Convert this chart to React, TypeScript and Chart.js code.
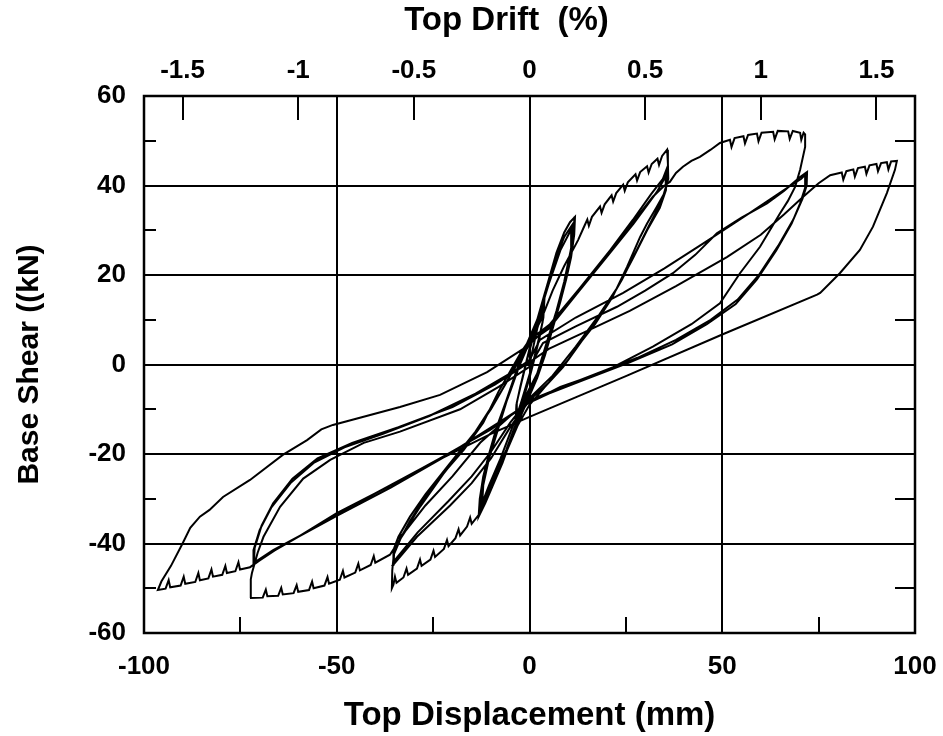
import React, { useEffect, useRef } from "react";
import { Chart, registerables } from "chart.js";

Chart.register(...registerables);

// ---- axis values ----
const xMin = -100;
const xMax = 100;
const yMin = -60;
const yMax = 60;
const mmPerDriftPercent = 60;
const xTickValues = [-100, -50, 0, 50, 100];
const yTickValues = [-60, -40, -20, 0, 20, 40, 60];
const driftTickValues = [-1.5, -1, -0.5, 0, 0.5, 1, 1.5];
const xMinorTicks = [-75, -25, 25, 75];
const yMinorTicks = [-50, -30, -10, 10, 30, 50];
const driftMarks = [-1.5, -1, -0.5, 0.5, 1, 1.5];

// ---- hysteresis path: [displacement mm, shear kN] ----
const smallCycles = [
  [0, 0], [1, 4], [2, 8], [3, 11], [3.8, 13.5], [3.6, 10.5], [2.6, 6], [1.2, 1], [0, -3],
  [-1.2, -6.5], [-2.4, -9.5], [-3.6, -12.5], [-3.4, -9], [-2.4, -5], [-1, 0], [0, 3.5],
  [1.2, 6.5], [2.5, 10], [3.6, 12.8], [3.4, 9.5], [2.2, 5], [0.8, 0], [-0.6, -4], [-2, -8],
  [-3.5, -12], [-3.3, -8.5], [-2.2, -4.5], [-0.8, 0.5], [0.3, 4],
];

const cycle12a = [
  [1.5, 8], [3, 13], [5, 19], [7, 25], [9, 29.5], [10.5, 31.8], [11.8, 33], [11.6, 29],
  [10.8, 24], [9.5, 19], [8, 14], [6, 8], [4, 2], [2, -3], [0, -7], [-2, -11], [-4.5, -16],
  [-7, -22], [-9.5, -27], [-11.5, -31], [-13.2, -34], [-12.9, -30], [-12, -25], [-10.5, -20],
  [-8.5, -14], [-6, -8], [-4, -3], [-2, 2], [0, 6],
];
const cycle12b = [
  [2, 10], [4, 16], [6.5, 23], [9, 28.5], [11.3, 31.5], [11, 27], [9.5, 20], [7.5, 13],
  [5, 6], [2.5, -1], [0, -6], [-3, -12], [-6, -19], [-9, -25], [-12.3, -31.5], [-12, -27],
  [-10.5, -21], [-8, -14], [-5.5, -7], [-3, -1], [-1, 3], [0.5, 6],
];
const cycle12c = [
  [2.5, 11], [5, 18], [8, 25.5], [11, 30.5], [10.8, 26], [9, 18.5], [7, 12], [4.5, 5],
  [2, -2], [-1, -7], [-4, -13], [-7.5, -21], [-10.5, -27], [-12.5, -31.5], [-12.2, -27],
  [-10.5, -20], [-8, -13], [-5, -6], [-2.5, 0], [0, 5],
];

const cycle35aUp = [
  [3, 10], [6, 16.5], [9, 22], [11.5, 26], [12.6, 27.8], [14, 30.5], [15, 32.4], [15.4, 31],
  [16.2, 33], [18.3, 35.3], [18.7, 33.9], [19.5, 35.8], [21.3, 37.8], [21.7, 36.4],
  [22.5, 38.3], [24.3, 40.2], [24.7, 38.8], [25.5, 40.7], [27.5, 42.5], [27.9, 41.1],
  [28.7, 43], [30.5, 44.3], [30.9, 42.9], [31.7, 44.8], [33.2, 46], [33.6, 44.6],
  [34.4, 46.6], [35.7, 48],
];
const cycle35aDown = [
  [35.9, 45], [36, 41.5], [34.8, 38], [33, 35.2], [30.5, 31.5], [28.7, 28.5], [25.3, 21.8],
  [21.5, 15], [17, 9], [13.1, 4.8], [8.7, -0.6], [4, -5], [0, -9], [-3, -13.5], [-6, -19.5],
  [-9, -25.5], [-11.5, -30.5], [-12.8, -33.2], [-15, -35.6], [-15.4, -34.2], [-16.2, -36.2],
  [-18, -38.2], [-18.4, -36.8], [-19.2, -38.8], [-21, -40.6], [-21.4, -39.2], [-22.2, -41.2],
  [-24.5, -43], [-24.9, -41.6], [-25.7, -43.6], [-28, -45], [-28.4, -43.6], [-29.2, -45.6],
  [-31.5, -47], [-31.9, -45.6], [-32.7, -47.6], [-34.5, -48.8], [-34.9, -47.4], [-35.3, -49.2],
  [-35.7, -50],
];
const cycle35aBack = [
  [-35.6, -46], [-35.2, -42.5], [-33.5, -39], [-31, -35], [-27.6, -30.4], [-22.4, -24.4],
  [-17, -19], [-12, -13], [-8, -6], [-5, -1.5], [-2, 3], [0, 5.5],
];
const cycle35b = [
  [5.3, 9], [13, 17], [20.9, 25.5], [26.8, 32.3], [31.5, 38], [34.6, 41.5], [35.5, 43.5],
  [35.6, 40], [34, 36], [31, 31], [27.5, 25], [24, 19], [20, 13], [15, 7], [10, 1], [5, -4],
  [0, -8], [-5, -14], [-10, -21], [-15, -26.5], [-20.6, -31.5], [-29.2, -38.5], [-35.4, -44.8],
  [-35.3, -42], [-34.2, -39], [-32.8, -37.8], [-28.4, -31.8], [-22.4, -24.5], [-16, -17.5],
  [-10, -10], [-6, -4], [-3, 1], [0, 5],
];
const cycle35c = [
  [5, 8], [12, 15.5], [20, 24], [27, 31.5], [33, 38.5], [35.3, 42], [35.4, 39], [33.8, 35],
  [30.5, 30], [27, 24], [23, 17.5], [18, 11], [12, 4], [6, -2.5], [0, -7.5], [-5, -13],
  [-10, -19.5], [-15, -25], [-21, -30.5], [-29, -37.5], [-35.2, -44], [-35.1, -41], [-34, -38.5],
  [-31, -34], [-27, -29], [-21, -22.5], [-14, -15], [-8, -7], [-4, -1], [0, 4.5],
];

const cycle70aUp = [
  [5.5, 9], [13, 17], [21, 25.5], [27, 32], [32, 37.5], [35, 40], [36.4, 40.8], [38, 42.8],
  [39.8, 44.2], [42, 45.5], [44.2, 46.4], [47, 48], [49.4, 49.5], [52, 50.2], [52.4, 48.6],
  [53.2, 50.6], [55.5, 51], [55.9, 49.4], [56.7, 51.3], [59, 51.6], [59.4, 49.9], [60.2, 51.8],
  [63.2, 52], [63.6, 50.3], [64.4, 52.2], [67.1, 52.1], [67.5, 50.4], [68.3, 52.2],
  [70.2, 51.8], [70.5, 50.2], [71.1, 51.8], [71.5, 51.4],
];
const cycle70aDown = [
  [71.5, 48.6], [70.2, 43.5], [68.9, 39.7], [67, 36.5], [65, 33.8], [59.8, 26.3], [54.6, 20.4],
  [49.4, 13.7], [42, 9], [32, 4], [21.7, -0.6], [10, -4.5], [0, -8], [-5, -11.5],
  [-12.8, -17.5], [-20, -25], [-27, -31.5], [-32, -37], [-36.2, -42.5], [-40, -44.3],
  [-40.4, -42.8], [-41.2, -44.8], [-44, -46], [-44.4, -44.5], [-45.2, -46.5], [-48, -47.6],
  [-48.4, -46.1], [-49.2, -48.1], [-52, -49], [-52.4, -47.5], [-53.2, -49.4], [-56, -50],
  [-56.4, -48.5], [-57.2, -50.4], [-60, -50.8], [-60.4, -49.3], [-61.2, -51.1], [-64, -51.4],
  [-64.4, -49.9], [-65.2, -51.7], [-68, -51.8], [-68.4, -50.3], [-69.2, -52.1], [-72.5, -52.2],
];
const cycle70aBack = [
  [-72.3, -48], [-72, -46.6], [-70.5, -42], [-69, -38.5], [-64.7, -31.8], [-58.7, -25.5],
  [-51.7, -21.3], [-43, -17.5], [-33.6, -15], [-18, -10], [-8, -5], [0, -0.5],
];
const cycle70b = [
  [3.5, 4.8], [12, 8.5], [22.7, 12.9], [30, 16.5], [37.2, 20.4], [43, 24.5], [48.6, 29.3],
  [55, 32.8], [61.6, 36], [66, 38.8], [70.2, 41.9], [72, 43], [71.9, 40], [70.8, 37],
  [68.5, 32.5], [64.5, 26.5], [59.5, 20], [54, 14.5], [47, 10], [38, 5.5], [28, 1.5],
  [18, -2], [8, -5], [0, -8.5], [-10, -14.5], [-22.4, -20.6], [-36, -27], [-50, -33.2],
  [-60, -38.5], [-67, -42], [-71.7, -44.8], [-71.6, -41.5], [-70, -37], [-67, -32],
  [-62, -26.5], [-56, -22], [-48, -18.5], [-38, -15.5], [-26, -11.5], [-14, -6.5], [-5, -2],
  [0, 1],
];
const cycle70c = [
  [2.7, 5.5], [12, 10.5], [24.3, 16], [35, 21.5], [45, 27], [53, 31.5], [60, 35.5], [66, 39],
  [70.5, 41.5], [71.6, 42.5], [71.5, 39.5], [70.2, 36], [68, 31.5], [64, 25.5], [59, 19],
  [53.5, 13.5], [46, 9], [37, 4.5], [26, 0.5], [14, -3.5], [5, -6.5], [0, -8.5], [-8, -13],
  [-20, -19.5], [-34, -26], [-48, -32.5], [-59, -38], [-66.5, -41.5], [-71.5, -44.3],
  [-71.3, -41], [-69.5, -36], [-66.5, -31], [-61.5, -25.5], [-55, -21], [-46, -17.5],
  [-34, -14], [-20, -9.5], [-9, -4.5], [0, 0.5],
];

const cycle95Up = [
  [5, 3.5], [15, 7.5], [26, 12], [38, 17.5], [51.2, 24], [60, 29], [66, 33.5], [71, 37.5],
  [75, 40.5], [78, 42.3], [81, 42.9], [81.4, 41.3], [82.2, 43.2], [84, 43.6], [84.4, 42],
  [85.2, 43.9], [87, 44.2], [87.4, 42.6], [88.2, 44.5], [90, 44.8], [90.4, 43.2], [91.2, 45],
  [92.7, 45.2], [93.1, 43.6], [93.8, 45.4], [95.3, 45.5],
];
const cycle95Down = [
  [94.8, 43.5], [92.7, 38.3], [89.1, 30.8], [85.7, 25.6], [80.5, 20.4], [75.4, 16],
  [74.6, 15.6], [50, 6.7], [25, -2.6], [0, -11.7], [-10, -15.5], [-22.4, -20.8], [-36, -27.5],
  [-50, -33.8], [-60, -38.5], [-66, -41.5], [-70, -43.8], [-72.5, -45.3], [-75.1, -45.8],
  [-75.5, -44.2], [-76.3, -46.2], [-78.5, -46.6], [-78.9, -45], [-79.7, -47], [-82.1, -47.4],
  [-82.5, -45.8], [-83.3, -47.8], [-85.5, -48.2], [-85.9, -46.6], [-86.7, -48.6],
  [-89.3, -49], [-89.7, -47.4], [-90.5, -49.4], [-93.2, -49.8], [-93.6, -48.2], [-94.4, -50.1],
  [-96.4, -50.4],
];
const cycle95Back = [
  [-95.5, -48.5], [-93, -45], [-90, -40], [-88, -36.5], [-85.5, -34], [-83, -32.5],
  [-79.5, -29.6], [-72.5, -25.8], [-64, -20.2], [-57.7, -16.9], [-54, -14.5], [-51, -13.5],
  [-33.6, -9.5], [-23.2, -6.8], [-11, -1.7], [0, 4.4],
];

const pathSegments = [
  smallCycles, cycle12a, cycle12b, cycle12c,
  cycle35aUp, cycle35aDown, cycle35aBack, cycle35b, cycle35c,
  cycle70aUp, cycle70aDown, cycle70aBack, cycle70b, cycle70c,
  cycle95Up, cycle95Down, cycle95Back,
];

const FONT = "'Liberation Sans', Arial, Helvetica, sans-serif";
const topTitle = "Top Drift  (%)";

const framePlugin = {
  id: "frameAndMarks",
  afterDraw(chart: any) {
    const { ctx, chartArea, scales } = chart;
    const { left, right, top, bottom } = chartArea;
    ctx.save();
    ctx.strokeStyle = "#000";
    ctx.lineWidth = 2;
    ctx.beginPath();
    xMinorTicks.forEach((v) => {
      const px = Math.round(scales.x.getPixelForValue(v));
      ctx.moveTo(px, bottom);
      ctx.lineTo(px, bottom - 16);
    });
    driftMarks.forEach((v) => {
      const px = Math.round(scales.x2.getPixelForValue(v));
      ctx.moveTo(px, top);
      ctx.lineTo(px, top + 24);
    });
    yMinorTicks.forEach((v) => {
      const py = Math.round(scales.y.getPixelForValue(v));
      ctx.moveTo(left, py);
      ctx.lineTo(left + 12, py);
      ctx.moveTo(right, py);
      ctx.lineTo(right - 20, py);
    });
    ctx.stroke();
    ctx.lineWidth = 2.5;
    ctx.strokeRect(left, top, right - left, bottom - top);
    // top axis title, sitting slightly left of the axis centre as in the source
    ctx.fillStyle = "#000";
    ctx.font = `bold 33px ${FONT}`;
    ctx.textAlign = "center";
    ctx.textBaseline = "middle";
    ctx.fillText(topTitle, (left + right) / 2 - 23, 21);
    ctx.restore();
  },
};

export default function App() {
  const ref = useRef<HTMLCanvasElement | null>(null);

  useEffect(() => {
    if (!ref.current) return;
    const points = pathSegments.flat().map(([x, y]) => ({ x, y }));
    const tickFont = { family: FONT, size: 26, weight: "bold" as const };
    const chart = new Chart(ref.current, {
      type: "scatter",
      data: {
        datasets: [
          {
            data: points,
            showLine: true,
            borderColor: "#000",
            borderWidth: 2,
            pointRadius: 0,
            pointHoverRadius: 0,
            tension: 0,
            fill: false,
          },
        ],
      },
      options: {
        responsive: false,
        animation: false,
        devicePixelRatio: 1,
        layout: { padding: { left: 0, right: 28, top: 0, bottom: 0 } },
        plugins: { legend: { display: false }, tooltip: { enabled: false } },
        scales: {
          x: {
            type: "linear",
            position: "bottom",
            min: xMin,
            max: xMax,
            afterBuildTicks: (s: any) => {
              s.ticks = xTickValues.map((v) => ({ value: v }));
            },
            afterFit: (s: any) => {
              s.height = 103;
              s.paddingLeft = 0;
              s.paddingRight = 0;
            },
            grid: { color: "#000", lineWidth: 2, drawTicks: false },
            border: { display: false },
            ticks: {
              color: "#000",
              font: tickFont,
              padding: 18,
              maxRotation: 0,
              autoSkip: false,
            },
            title: {
              display: true,
              text: "Top Displacement (mm)",
              color: "#000",
              font: { family: FONT, size: 33, weight: "bold" },
              padding: { top: 0, bottom: 0 },
            },
          },
          x2: {
            type: "linear",
            position: "top",
            min: xMin / mmPerDriftPercent,
            max: xMax / mmPerDriftPercent,
            afterBuildTicks: (s: any) => {
              s.ticks = driftTickValues.map((v) => ({ value: v }));
            },
            afterFit: (s: any) => {
              s.height = 96;
              s.paddingLeft = 0;
              s.paddingRight = 0;
            },
            grid: { display: false, drawTicks: false },
            border: { display: false },
            ticks: {
              color: "#000",
              font: tickFont,
              padding: 10,
              maxRotation: 0,
              autoSkip: false,
              callback: (v: any) => String(v),
            },
            title: { display: false },
          },
          y: {
            type: "linear",
            position: "left",
            min: yMin,
            max: yMax,
            afterBuildTicks: (s: any) => {
              s.ticks = yTickValues.map((v) => ({ value: v }));
            },
            afterFit: (s: any) => {
              s.width = 144;
            },
            grid: { color: "#000", lineWidth: 2, drawTicks: false },
            border: { display: false },
            ticks: {
              color: "#000",
              font: tickFont,
              padding: 18,
              autoSkip: false,
            },
            title: {
              display: true,
              text: "Base Shear ((kN)",
              color: "#000",
              font: { family: FONT, size: 30, weight: "bold" },
              padding: { top: 12, bottom: 0 },
            },
          },
        },
      },
      plugins: [framePlugin],
    });
    return () => chart.destroy();
  }, []);

  return (
    <div style={{ position: "absolute", left: 0, top: 0, width: 943, height: 736, background: "#fff" }}>
      <canvas ref={ref} width={943} height={736} style={{ display: "block" }} />
    </div>
  );
}
